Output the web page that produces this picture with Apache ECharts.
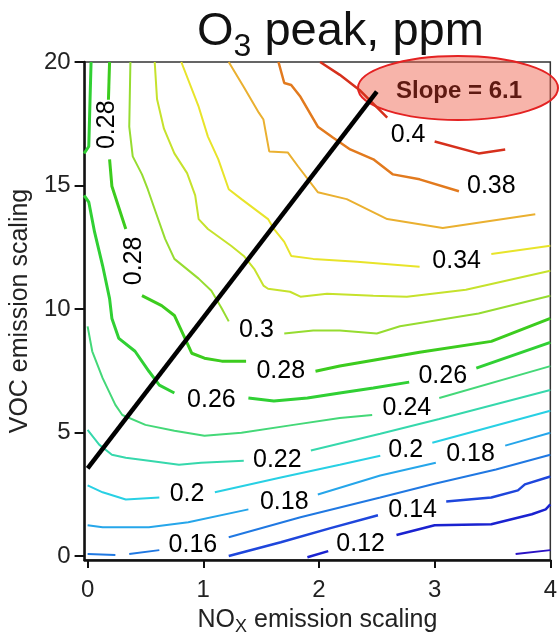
<!DOCTYPE html>
<html>
<head>
<meta charset="utf-8">
<script src="https://cdn.jsdelivr.net/npm/echarts@6/dist/echarts.min.js"></script>
<style>
  html, body { margin: 0; padding: 0; background: #fff; }
  #chart { width: 560px; height: 641px; }
</style>
</head>
<body>
<div id="chart"></div>
<script>
const xTicks = [0, 1, 2, 3, 4];
const yTicks = [0, 5, 10, 15, 20];

const levels = [0.1, 0.12, 0.14, 0.16, 0.18, 0.2, 0.22, 0.24, 0.26, 0.28, 0.3, 0.32, 0.34, 0.36, 0.38, 0.4];

// contour segments, [NOx scaling, VOC scaling]
const c010 = [[[3.70, 0.08], [4.0, 0.24]]];
const c012 = [
  [[1.90, -0.05], [2.08, 0.2]],
  [[2.67, 0.85], [3.0, 1.25], [3.49, 1.29], [3.84, 1.69], [3.96, 1.89], [4.0, 2.09]]
];
const c014 = [
  [[1.22, 0.0], [1.67, 0.56], [2.10, 1.13], [2.51, 1.65]],
  [[3.10, 2.21], [3.49, 2.37], [3.72, 2.66], [3.78, 2.90], [4.0, 3.22]]
];
const c016 = [
  [[0.0, 0.08], [0.24, 0.04]],
  [[0.36, 0.08], [0.62, 0.24]],
  [[1.22, 0.76], [1.84, 1.57], [2.53, 2.37], [3.0, 2.93], [3.53, 3.5], [4.0, 4.1]]
];
const c018 = [
  [[0.0, 1.25], [0.13, 1.17], [0.53, 1.17], [0.87, 1.37], [1.39, 1.89]],
  [[1.99, 2.49], [2.53, 3.26], [3.01, 3.78]],
  [[3.61, 4.47], [4.0, 4.99]]
];
const c020 = [
  [[0.0, 2.86], [0.13, 2.58], [0.33, 2.29], [0.62, 2.37]],
  [[1.10, 2.58], [1.67, 3.18], [2.18, 3.70], [2.53, 4.06]],
  [[2.98, 4.59], [4.0, 5.88]]
];
const c022 = [
  [[0.0, 5.11], [0.10, 4.51], [0.21, 4.10], [0.33, 3.98], [0.53, 3.86], [0.79, 3.70], [0.98, 3.78], [1.35, 3.86]],
  [[1.93, 4.27], [2.53, 4.95], [3.04, 5.55], [4.0, 6.72]]
];
const c024 = [
  [[0.0, 9.30], [0.04, 8.29], [0.13, 7.20], [0.24, 6.12], [0.30, 5.71], [0.50, 5.31], [0.75, 5.07], [1.01, 4.87], [1.33, 4.99], [1.78, 5.31], [2.18, 5.59], [2.46, 5.71]],
  [[3.04, 6.40], [4.0, 7.69]]
];
const c026 = [
  [[0.03, 20], [0.01, 16.58], [-0.03, 16.3]],
  [[-0.03, 14.6], [0.01, 14.33], [0.06, 13.12], [0.13, 11.75], [0.19, 10.42], [0.21, 9.62], [0.27, 8.81], [0.41, 8.29], [0.53, 7.48], [0.62, 6.92], [0.75, 6.6]],
  [[1.39, 6.4], [1.61, 6.28], [1.90, 6.4], [2.18, 6.6], [2.47, 6.8], [2.78, 7.04]],
  [[3.36, 7.61], [4.0, 8.65]]
];
const c028 = [
  [[0.19, 20], [0.18, 18.47]],
  [[0.19, 16.06], [0.21, 14.97], [0.33, 13.24]],
  [[0.47, 10.54], [0.64, 10.14], [0.75, 9.74], [0.83, 8.93], [0.90, 8.21], [1.01, 8.01], [1.16, 7.89], [1.37, 7.89]],
  [[1.97, 7.48], [2.18, 7.69], [2.47, 7.93], [2.87, 8.25], [3.49, 8.69], [4.0, 9.62]]
];
const c030 = [
  [[0.37, 20], [0.36, 17.38], [0.39, 16.18], [0.47, 15.45], [0.52, 14.85], [0.58, 14.04], [0.67, 12.84], [0.75, 12.03], [0.96, 11.23], [1.07, 10.74], [1.16, 10.02], [1.22, 9.5]],
  [[1.70, 9.01], [1.95, 9.13], [2.18, 9.13], [2.5, 9.01], [2.70, 9.3], [3.38, 9.82], [4.0, 10.54]]
];
const c032 = [
  [[0.58, 20], [0.6, 18.5], [0.66, 17.3], [0.75, 16.3], [0.86, 15.5], [0.93, 14.6], [0.96, 13.64], [1.04, 13.24], [1.24, 12.56], [1.35, 12.15], [1.44, 11.63], [1.52, 10.95], [1.56, 10.82], [1.75, 10.7], [1.84, 10.5], [2.07, 10.62], [2.47, 10.54], [2.76, 10.5], [3.27, 10.78], [4.0, 11.55]]
];
const c034 = [
  [[0.81, 20], [0.96, 18.19], [1.04, 16.98], [1.13, 16.06], [1.22, 14.85], [1.33, 14.45], [1.56, 13.64], [1.61, 13.24], [1.70, 12.72], [1.76, 12.15], [1.95, 12.03], [2.33, 11.91], [2.87, 11.71]],
  [[3.49, 12.23], [4.0, 12.56]]
];
const c036 = [
  [[1.22, 20], [1.35, 18.99], [1.48, 17.95], [1.52, 17.67], [1.57, 16.38], [1.73, 16.34], [1.82, 15.77], [1.99, 14.73], [2.24, 14.45], [2.59, 13.64], [3.07, 13.28], [3.87, 13.84]]
];
const c038 = [
  [[1.65, 20], [1.70, 19.15], [1.76, 19.07], [1.84, 18.59], [1.99, 17.38], [2.12, 16.94], [2.27, 16.46], [2.47, 16.06], [2.64, 15.45], [2.87, 15.25], [3.21, 14.77]]
];
const c040 = [
  [[2.01, 20], [2.18, 19.48], [2.35, 18.87], [2.59, 17.75]],
  [[3.0, 16.78], [3.38, 16.3], [3.61, 16.46]]
];

// inline labels: x, y, text, angle
const contourLabels = [
  [2.77, 17.06, '0.4', 0],
  [3.49, 14.97, '0.38', 0],
  [3.19, 11.95, '0.34', 0],
  [1.46, 9.13, '0.3', 0],
  [0.17, 17.46, '0.28', 90],
  [0.40, 11.95, '0.28', 90],
  [1.67, 7.48, '0.28', 0],
  [1.07, 6.32, '0.26', 0],
  [3.07, 7.28, '0.26', 0],
  [2.76, 6.0, '0.24', 0],
  [1.64, 3.90, '0.22', 0],
  [0.86, 2.49, '0.2', 0],
  [2.75, 4.27, '0.2', 0],
  [1.70, 2.17, '0.18', 0],
  [3.31, 4.14, '0.18', 0],
  [0.91, 0.44, '0.16', 0],
  [2.81, 1.85, '0.14', 0],
  [2.36, 0.48, '0.12', 0]
];

const slopeLine = [[0, 3.55], [2.5, 18.8]];

const contourSets = [c010, c012, c014, c016, c018, c020, c022, c024, c026, c028, c030, c032, c034, c036, c038, c040];
const lineColors = ['#2a12c4', '#1a22d0', '#1e46dc', '#2078e2', '#26a6ea', '#28d0e4', '#36d8ac', '#44d878', '#30d034', '#3ccc1e', '#96dc30', '#c6e22c', '#e8e42a', '#eab030', '#e27a1e', '#d6301c'];
const lineWidths = [2, 2.5, 2.5, 2, 2, 2, 2, 2, 3, 3, 2, 2, 2, 2, 2.5, 2.5];

const font = '"Liberation Sans", Arial, sans-serif';

const series = [];
contourSets.forEach((segs, i) => {
  segs.forEach(seg => {
    series.push({
      type: 'line',
      data: seg,
      symbol: 'none',
      silent: true,
      animation: false,
      lineStyle: { color: lineColors[i], width: lineWidths[i] },
      z: 2
    });
  });
});

series.push({
  type: 'line',
  data: slopeLine,
  symbol: 'none',
  silent: true,
  animation: false,
  lineStyle: { color: '#000', width: 4.5 },
  z: 5
});

series.push({
  type: 'scatter',
  symbolSize: 2,
  itemStyle: { color: 'rgba(0,0,0,0)' },
  silent: true,
  animation: false,
  z: 6,
  data: contourLabels.map(d => ({
    value: [d[0], d[1]],
    name: d[2],
    label: { rotate: d[3] }
  })),
  label: {
    show: true,
    position: 'inside',
    formatter: p => p.name,
    fontSize: 25,
    color: '#000',
    opacity: 1,
    textBorderWidth: 0,
    fontFamily: font
  },
  labelLayout: { hideOverlap: false }
});

const chart = echarts.init(document.getElementById('chart'));
chart.setOption({
  animation: false,
  title: {
    text: '{a|O}{b|3}{a| peak, ppm}',
    left: 192,
    top: -4,
    textStyle: {
      rich: {
        a: { fontSize: 47, fontWeight: 'normal', color: '#111', fontFamily: font, lineHeight: 50 },
        b: { fontSize: 32, fontWeight: 'normal', color: '#111', fontFamily: font, padding: [30, 0, 0, 0] }
      }
    }
  },
  grid: {
    left: 82, right: 7, top: 62, bottom: 78,
    show: true, borderColor: '#333', borderWidth: 1.5,
    containLabel: false
  },
  xAxis: {
    type: 'value',
    min: -0.026,
    max: 4,
    name: '{a|NO}{b|X}{a| emission scaling}',
    nameLocation: 'middle',
    nameGap: 44,
    nameTextStyle: {
      rich: {
        a: { fontSize: 25, color: '#222', fontFamily: font, lineHeight: 28 },
        b: { fontSize: 18, color: '#222', fontFamily: font, padding: [14, 0, 0, 0] }
      }
    },
    axisLine: { show: true, onZero: false, lineStyle: { color: '#111', width: 2.5 } },
    axisTick: { show: true, customValues: xTicks, length: 8, lineStyle: { color: '#111', width: 2 } },
    axisLabel: { customValues: xTicks, fontSize: 24, color: '#222', margin: 18, fontFamily: font },
    splitLine: { show: false }
  },
  yAxis: {
    type: 'value',
    min: -0.16,
    max: 20,
    name: 'VOC emission scaling',
    nameLocation: 'middle',
    nameRotate: 90,
    nameGap: 42,
    nameTextStyle: { fontSize: 25, color: '#222', fontFamily: font },
    axisLine: { show: true, onZero: false, lineStyle: { color: '#111', width: 2.5 } },
    axisTick: { show: true, customValues: yTicks, length: 10, lineStyle: { color: '#111', width: 2 } },
    axisLabel: { customValues: yTicks, fontSize: 24, color: '#222', margin: 14, fontFamily: font },
    splitLine: { show: false }
  },
  graphic: [
    {
      type: 'ellipse',
      shape: { cx: 458, cy: 88, rx: 100, ry: 32 },
      style: { fill: 'rgba(238,98,78,0.48)', stroke: '#e42222', lineWidth: 2 },
      z: 0
    },
    {
      type: 'text',
      x: 459,
      y: 91,
      style: {
        text: 'Slope = 6.1',
        fill: '#5e1a12',
        font: 'bold 24px ' + font,
        textAlign: 'center',
        textVerticalAlign: 'middle'
      },
      z: 100
    }
  ],
  series: series
});
</script>
</body>
</html>
